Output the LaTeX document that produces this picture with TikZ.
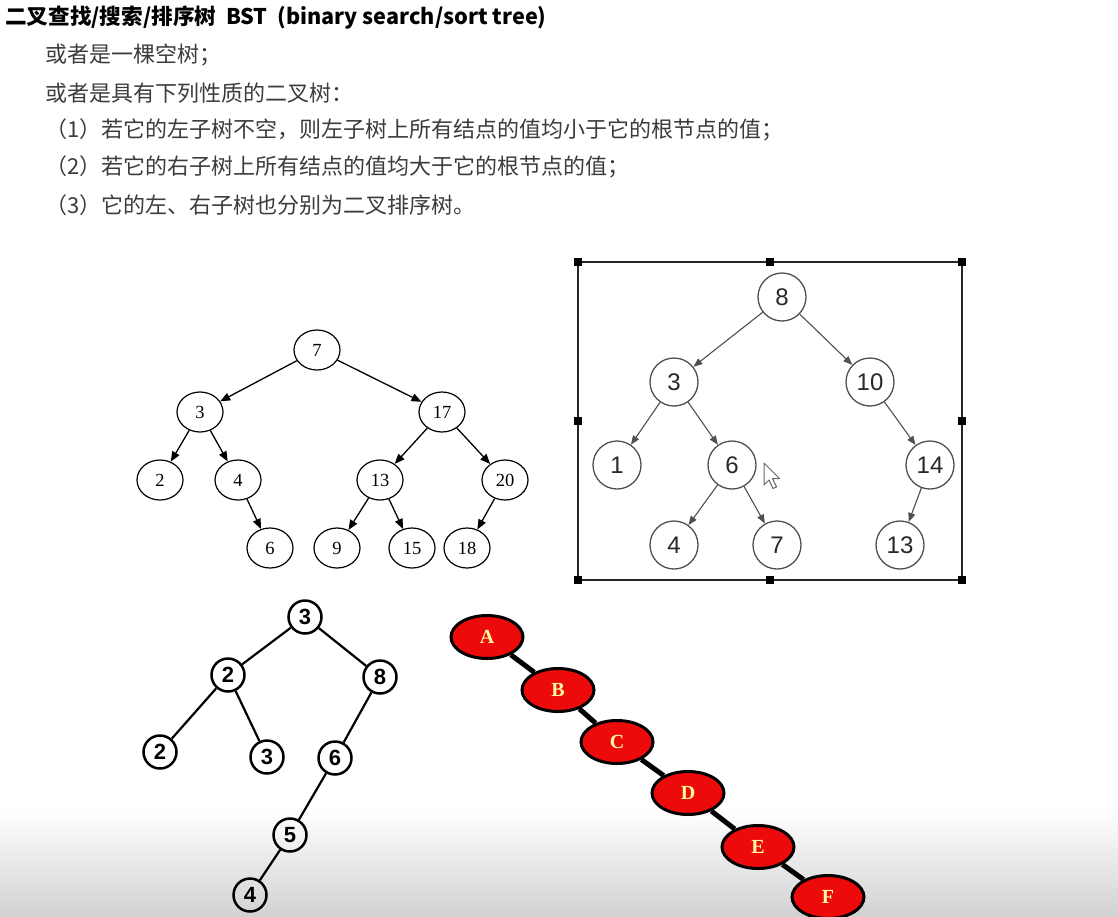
\documentclass[tikz,border=0pt]{standalone}
\usepackage{fontspec}
\setmainfont{Liberation Serif}
\newfontfamily\cjk{Noto Sans CJK SC}
\newfontfamily\arialf{Liberation Sans}
\newfontfamily\timesf{Liberation Serif}
\usetikzlibrary{shapes.geometric,arrows.meta}
\definecolor{txtgray}{RGB}{60,60,60}
\definecolor{cgray}{RGB}{80,80,80}
\definecolor{darktext}{RGB}{40,40,40}
\definecolor{nodered}{RGB}{236,10,10}
\definecolor{paleyellow}{RGB}{255,250,160}
\definecolor{bggray}{RGB}{210,210,210}
\begin{document}
\begin{tikzpicture}[x=1pt,y=-1pt,
  txt/.style={anchor=west, inner sep=0pt, text=txtgray, font=\cjk\fontsize{22}{26}\selectfont},
  ttl/.style={anchor=west, inner sep=0pt, text=black, font=\cjk\bfseries\fontsize{21.6}{26}\selectfont},
  oval/.style={ellipse, draw, line width=1.2pt, minimum width=46pt, minimum height=40pt, inner sep=0pt, font=\timesf\fontsize{18.5}{18.5}\selectfont},
  arr/.style={-{Triangle[length=10pt,width=8pt]}, line width=1.3pt},
  rc/.style={circle, draw=cgray, line width=1.3pt, minimum size=48pt, inner sep=0pt, text=darktext, font=\arialf\fontsize{24}{24}\selectfont},
  garr/.style={-{Triangle[length=9pt,width=7pt]}, draw=cgray, line width=1.1pt},
  bc/.style={circle, draw, line width=2.5pt, minimum size=33pt, inner sep=0pt, font=\arialf\bfseries\fontsize{22}{22}\selectfont},
  bl/.style={line width=2.2pt},
  rn/.style={ellipse, draw, fill=nodered, line width=3pt, minimum width=72pt, minimum height=43pt, inner sep=0pt, text=paleyellow, font=\timesf\bfseries\fontsize{20}{20}\selectfont},
  rl/.style={line width=5pt},
  handle/.style={rectangle, fill=black, minimum size=8pt, inner sep=0pt}
]
\clip (0,0) rectangle (1118,916);
\fill[white] (0,0) rectangle (1118,916);
\shade[top color=white, bottom color=bggray] (0,810) rectangle (1118,916);

% texts
\node[ttl] (title) at (5,18) {二叉查找/搜索/排序树\ \ BST\ \ (binary search/sort tree)};
\node[txt] (l1) at (45,55) {或者是一棵空树；};
\node[txt] (l2) at (45,93) {或者是具有下列性质的二叉树：};
\node[txt] (l3) at (45,130) {（1）若它的左子树不空，则左子树上所有结点的值均小于它的根节点的值；};
\node[txt] (l4) at (45,167) {（2）若它的右子树上所有结点的值均大于它的根节点的值；};
\node[txt] (l5) at (45,205) {（3）它的左、右子树也分别为二叉排序树。};

% tree 1
\node[oval] (a7) at (317,350) {7};
\node[oval] (a3) at (200,412) {3};
\node[oval] (a17) at (442,412) {17};
\node[oval] (a2) at (160,480) {2};
\node[oval] (a4) at (238,480) {4};
\node[oval] (a13) at (380,480) {13};
\node[oval] (a20) at (505,480) {20};
\node[oval] (a6) at (270,548) {6};
\node[oval] (a9) at (337,548) {9};
\node[oval] (a15) at (412,548) {15};
\node[oval] (a18) at (467,548) {18};
\draw[arr] (a7) -- (a3);
\draw[arr] (a7) -- (a17);
\draw[arr] (a3) -- (a2);
\draw[arr] (a3) -- (a4);
\draw[arr] (a4) -- (a6);
\draw[arr] (a17) -- (a13);
\draw[arr] (a17) -- (a20);
\draw[arr] (a13) -- (a9);
\draw[arr] (a13) -- (a15);
\draw[arr] (a20) -- (a18);

% tree 2 (boxed)
\draw[line width=1.5pt, draw=black!85] (578,262) rectangle (962,580);
\foreach \hx/\hy [count=\i] in {578/262,770/262,962/262,578/421,962/421,578/580,770/580,962/580}
  \node[handle] (h\i) at (\hx,\hy) {};
\node[rc] (b8) at (782,297) {8};
\node[rc] (b3) at (674,382) {3};
\node[rc] (b10) at (870,382) {10};
\node[rc] (b1) at (617,465) {1};
\node[rc] (b6) at (732,465) {6};
\node[rc] (b14) at (930,465) {14};
\node[rc] (b4) at (674,545) {4};
\node[rc] (b7) at (777,545) {7};
\node[rc] (b13) at (900,545) {13};
\draw[garr] (b8) -- (b3);
\draw[garr] (b8) -- (b10);
\draw[garr] (b3) -- (b1);
\draw[garr] (b3) -- (b6);
\draw[garr] (b10) -- (b14);
\draw[garr] (b6) -- (b4);
\draw[garr] (b6) -- (b7);
\draw[garr] (b14) -- (b13);
% mouse cursor
\draw[fill=white, draw=black!60, line width=1pt, line join=round]
  (764,463) -- ++(0,22) -- ++(5,-5) -- ++(4,8.5) -- ++(3.5,-1.6) -- ++(-4,-8.4) -- ++(7,0) -- cycle;

% tree 3
\node[bc] (c3) at (305,617) {3};
\node[bc] (c2) at (228,675) {2};
\node[bc] (c8) at (380,677) {8};
\node[bc] (c2l) at (160,752) {2};
\node[bc] (c3r) at (267,757) {3};
\node[bc] (c6) at (335,758) {6};
\node[bc] (c5) at (290,835) {5};
\node[bc] (c4) at (250,895) {4};
\draw[bl] (c3) -- (c2);
\draw[bl] (c3) -- (c8);
\draw[bl] (c2) -- (c2l);
\draw[bl] (c2) -- (c3r);
\draw[bl] (c8) -- (c6);
\draw[bl] (c6) -- (c5);
\draw[bl] (c5) -- (c4);

% tree 4 (red)
\node[rn] (dA) at (487,637) {A};
\node[rn] (dB) at (558,690) {B};
\node[rn] (dC) at (617,742) {C};
\node[rn] (dD) at (688,793) {D};
\node[rn] (dE) at (758,847) {E};
\node[rn] (dF) at (828,897) {F};
\draw[rl] (dA) -- (dB);
\draw[rl] (dB) -- (dC);
\draw[rl] (dC) -- (dD);
\draw[rl] (dD) -- (dE);
\draw[rl] (dE) -- (dF);
\end{tikzpicture}
\end{document}
